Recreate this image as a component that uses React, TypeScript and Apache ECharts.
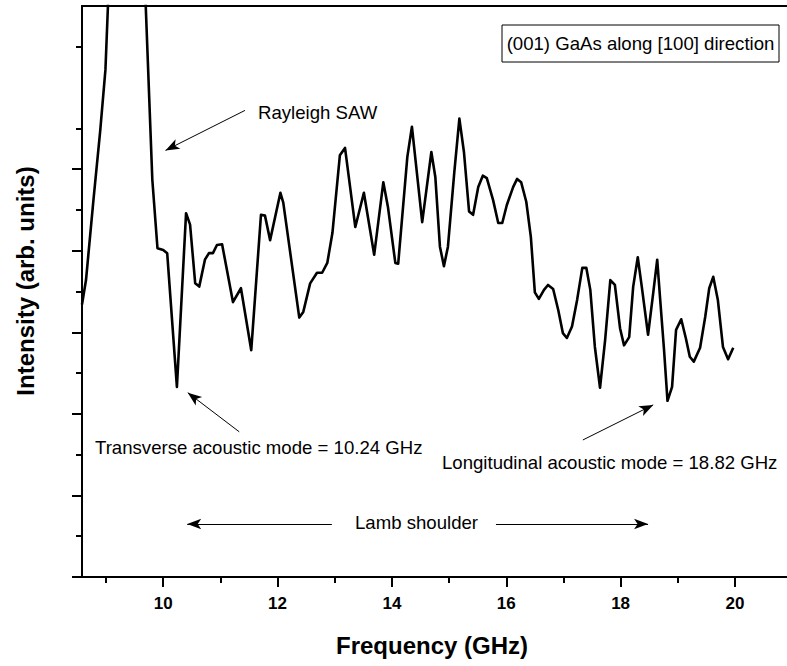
import React, { useEffect, useRef } from "react";
import * as echarts from "echarts";

const frequency = [
  8.58, 8.65, 8.78, 8.9, 8.99, 9.37, 9.81, 9.9, 10.0, 10.07, 10.24, 10.4, 10.47, 10.56, 10.63, 10.73, 10.8, 10.87,
  10.94, 11.03, 11.22, 11.36, 11.54, 11.71, 11.78, 11.87, 12.05, 12.1, 12.38, 12.45, 12.57, 12.69, 12.78, 12.87,
  12.96, 13.09, 13.18, 13.36, 13.51, 13.69, 13.85, 13.93, 14.06, 14.11, 14.27, 14.35, 14.53, 14.69, 14.76, 14.84,
  14.91, 14.98, 15.09, 15.18, 15.26, 15.35, 15.42, 15.51, 15.59, 15.66, 15.77, 15.86, 15.93, 16.01, 16.12, 16.19,
  16.26, 16.35, 16.43, 16.5, 16.57, 16.66, 16.73, 16.82, 16.91, 16.99, 17.06, 17.15, 17.24, 17.33, 17.4, 17.47,
  17.55, 17.64, 17.73, 17.82, 17.9, 17.99, 18.06, 18.15, 18.22, 18.3, 18.37, 18.48, 18.57, 18.64, 18.69, 18.76,
  18.82, 18.9, 18.97, 19.06, 19.14, 19.21, 19.28, 19.39, 19.48, 19.55, 19.62, 19.7, 19.79, 19.88, 19.97,
];

const intensity = [
  3.34, 3.64, 4.62, 5.48, 6.22, 13.0, 4.87, 4.03, 4.01, 3.97, 2.33, 4.46, 4.32, 3.6, 3.56, 3.89, 3.97, 3.97,
  4.07, 4.08, 3.37, 3.54, 2.78, 4.44, 4.43, 4.13, 4.71, 4.59, 3.18, 3.25, 3.6, 3.73, 3.73, 3.85,
  4.22, 5.17, 5.26, 4.29, 4.71, 3.95, 4.84, 4.54, 3.85, 3.84, 5.15, 5.52, 4.35, 5.21, 4.9, 4.05,
  3.81, 4.05, 4.95, 5.62, 5.21, 4.48, 4.44, 4.78, 4.92, 4.89, 4.62, 4.34, 4.34, 4.56, 4.78, 4.88,
  4.84, 4.6, 4.17, 3.49, 3.41, 3.52, 3.58, 3.53, 3.27, 2.99, 2.93, 3.07, 3.4, 3.79, 3.79, 3.52,
  2.82, 2.32, 2.91, 3.64, 3.58, 3.05, 2.84, 2.94, 3.56, 3.92, 3.56, 2.97, 3.48, 3.89, 3.42, 2.78,
  2.16, 2.33, 3.03, 3.16, 2.93, 2.7, 2.64, 2.81, 3.19, 3.54, 3.68, 3.4, 2.82, 2.67, 2.81,
];

const majorXTicks = [10, 12, 14, 16, 18, 20];
const minorXTicks = [9, 11, 13, 15, 17, 19];
const majorYTicks = [0, 1, 2, 3, 4, 5];
const minorYTicks = [0.5, 1.5, 2.5, 3.5, 4.5, 5.5, 6.5];

const X_MIN = 8.58;
const X_MAX = 20.91;
const Y_MIN = 0;
const Y_MAX = 7;

// annotation arrows in data coordinates: [from, to]
const arrowRayleigh = [[11.43, 5.72], [10.04, 5.23]];
const arrowTransverse = [[11.33, 1.78], [10.43, 2.26]];
const arrowLongitudinal = [[17.34, 1.68], [18.57, 2.11]];
const arrowLambLeft = [[12.95, 0.65], [10.42, 0.65]];
const arrowLambRight = [[15.82, 0.65], [18.48, 0.65]];

const FONT = '"Liberation Sans", Arial, Helvetica, sans-serif';

export default function App() {
  const ref = useRef<HTMLDivElement>(null);

  useEffect(() => {
    const chart = echarts.init(ref.current!, null, { renderer: "svg" });
    const data = frequency.map((f, i) => [f, intensity[i]]);
    const arrow = (pair: number[][]) => [
      { coord: pair[0], symbol: "none" },
      { coord: pair[1], symbol: "arrow", symbolSize: [8, 14] },
    ];
    const axisColor = "#000";
    const noteFont = `18.6px ${FONT}`;

    chart.setOption({
      animation: false,
      backgroundColor: "#fff",
      grid: { left: 82, right: 0, top: 6, bottom: 89 },
      xAxis: [
        {
          type: "value",
          min: X_MIN,
          max: X_MAX,
          position: "bottom",
          axisLine: { show: true, onZero: false, lineStyle: { color: axisColor, width: 2 } },
          axisTick: { show: true, customValues: majorXTicks, length: 10, lineStyle: { color: axisColor, width: 2 } },
          axisLabel: {
            show: true,
            customValues: majorXTicks,
            color: "#000",
            fontSize: 17,
            fontWeight: "bold",
            fontFamily: FONT,
            margin: 18,
          },
          splitLine: { show: false },
        },
        {
          type: "value",
          min: X_MIN,
          max: X_MAX,
          position: "bottom",
          axisLine: { show: false, onZero: false },
          axisTick: { show: true, customValues: minorXTicks, length: 6, lineStyle: { color: axisColor, width: 2 } },
          axisLabel: { show: false },
          splitLine: { show: false },
        },
        {
          type: "value",
          min: X_MIN,
          max: X_MAX,
          position: "top",
          axisLine: { show: true, onZero: false, lineStyle: { color: axisColor, width: 2 } },
          axisTick: { show: false },
          axisLabel: { show: false },
          splitLine: { show: false },
        },
      ],
      yAxis: [
        {
          type: "value",
          min: Y_MIN,
          max: Y_MAX,
          position: "left",
          axisLine: { show: true, onZero: false, lineStyle: { color: axisColor, width: 2 } },
          axisTick: { show: true, customValues: majorYTicks, length: 10, lineStyle: { color: axisColor, width: 2 } },
          axisLabel: { show: false },
          splitLine: { show: false },
        },
        {
          type: "value",
          min: Y_MIN,
          max: Y_MAX,
          position: "left",
          axisLine: { show: false, onZero: false },
          axisTick: { show: true, customValues: minorYTicks, length: 6, lineStyle: { color: axisColor, width: 2 } },
          axisLabel: { show: false },
          splitLine: { show: false },
        },
      ],
      series: [
        {
          type: "line",
          data,
          xAxisIndex: 0,
          yAxisIndex: 0,
          showSymbol: false,
          symbol: "none",
          clip: true,
          lineStyle: { color: "#000", width: 2.6, join: "round" },
          emphasis: { disabled: true },
          markLine: {
            silent: true,
            animation: false,
            label: { show: false },
            emphasis: { disabled: true },
            lineStyle: { color: "#000", width: 1, type: "solid" },
            data: [
              arrow(arrowRayleigh),
              arrow(arrowTransverse),
              arrow(arrowLongitudinal),
              arrow(arrowLambLeft),
              arrow(arrowLambRight),
            ],
          },
        },
      ],
      graphic: [
        {
          type: "rect",
          shape: { x: 502, y: 25, width: 277, height: 37 },
          style: { fill: "#fff", stroke: "#000", lineWidth: 1 },
        },
        {
          type: "text",
          x: 640.5,
          y: 43.5,
          style: {
            text: "(001) GaAs along [100] direction",
            font: noteFont,
            align: "center",
            verticalAlign: "middle",
            fill: "#000",
          },
        },
        {
          type: "text",
          x: 258,
          y: 112,
          style: { text: "Rayleigh SAW", font: noteFont, align: "left", verticalAlign: "middle", fill: "#000" },
        },
        {
          type: "text",
          x: 95,
          y: 447,
          style: {
            text: "Transverse acoustic mode = 10.24 GHz",
            font: noteFont,
            align: "left",
            verticalAlign: "middle",
            fill: "#000",
          },
        },
        {
          type: "text",
          x: 442,
          y: 462,
          style: {
            text: "Longitudinal acoustic mode = 18.82 GHz",
            font: noteFont,
            align: "left",
            verticalAlign: "middle",
            fill: "#000",
          },
        },
        {
          type: "text",
          x: 355,
          y: 522,
          style: { text: "Lamb shoulder", font: noteFont, align: "left", verticalAlign: "middle", fill: "#000" },
        },
        {
          type: "text",
          x: 432,
          y: 645,
          style: {
            text: "Frequency (GHz)",
            font: `bold 24px ${FONT}`,
            align: "center",
            verticalAlign: "middle",
            fill: "#000",
          },
        },
        {
          type: "text",
          x: 25,
          y: 281,
          rotation: Math.PI / 2,
          style: {
            text: "Intensity (arb. units)",
            font: `bold 24px ${FONT}`,
            align: "center",
            verticalAlign: "middle",
            fill: "#000",
          },
        },
      ],
    });

    return () => chart.dispose();
  }, []);

  return (
    <div
      ref={ref}
      style={{ position: "absolute", left: 0, top: 0, width: 787, height: 666, background: "#fff" }}
    />
  );
}
